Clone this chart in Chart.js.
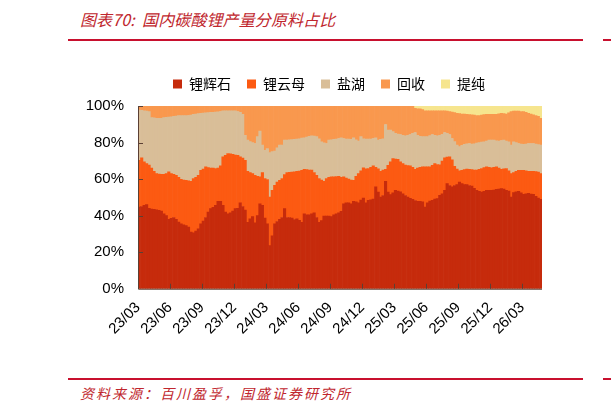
<!DOCTYPE html>
<html>
<head>
<meta charset="utf-8">
<script src="https://cdn.jsdelivr.net/npm/chart.js@4.4.1/dist/chart.umd.min.js"></script>
<style>
  html, body { margin: 0; padding: 0; background: #fff; }
  body { width: 611px; height: 410px; position: relative; overflow: hidden; font-family: "Noto Sans CJK SC", sans-serif; }
  .title { position: absolute; left: 80px; top: 7px; font-size: 16px; font-style: italic; color: #C0262D; letter-spacing: 0.1px; }
  .rule { position: absolute; height: 2px; background: #C8102E; }
  .source { position: absolute; left: 80px; top: 383px; font-size: 14px; font-style: italic; color: #C0262D; letter-spacing: 2px; }
  #wrap { position: absolute; left: 78px; top: 61px; width: 502px; height: 279px; }
</style>
</head>
<body>
<div class="title">图表70:&nbsp; 国内碳酸锂产量分原料占比</div>
<div class="rule" style="left:68px; top:39px; width:515px;"></div>
<div class="rule" style="left:603px; top:39px; width:8px;"></div>
<div id="wrap"><canvas id="chart"></canvas></div>
<div class="rule" style="left:68px; top:378px; width:515px;"></div>
<div class="rule" style="left:603px; top:378px; width:8px;"></div>
<div class="source">资料来源：百川盈孚，国盛证券研究所</div>
<script>
// quarter tick labels, one every 13 weekly bars
const quarterLabels = ['23/03', '23/06', '23/09', '23/12', '24/03', '24/06', '24/09', '24/12', '25/03', '25/06', '25/09', '25/12', '26/03'];
const weeksPerQuarter = 13;

const seriesNames = ['锂辉石', '锂云母', '盐湖', '回收', '提纯'];
const seriesColors = ['#C62B0C', '#FC5A12', '#D9BE98', '#F9984E', '#F6E58E'];

// weekly share of each feedstock, %
const spodumene = [44.7,45,45.6,46,44,43.6,43.4,43.2,42.9,42.5,
  41,40,38,38.5,39,38,36.5,35.5,35,34.5,
  33.7,31,30.6,31.5,32.8,35.5,37,39,42,43.8,
  44.5,45.6,47.8,47.8,45.6,42,41,41.5,42.5,43.8,
  44,47,45,43,36.4,38.3,39.5,36,40,46.5,
  45.6,38.6,35.5,23.6,29,35.5,36.8,38,39,43.8,
  39,39,38.6,37.9,38.3,37.5,36.4,41,40.5,40.5,
  41,41.6,39,36.4,37.3,39.7,39.7,39.7,39.5,40.5,
  41,41.5,42.3,46.5,47,47,46.5,47.8,47.5,47,
  48.5,49.6,47,48.4,48.6,49,55.7,52.9,50.2,51,
  58.8,52.9,51.5,52.5,53.8,53.5,53,52,51,50.2,
  49.5,48.9,48.3,47.8,47.8,47.5,44.7,47,48,48.4,
  49,49.3,51.1,52,53.8,57.5,56.5,55.7,56.5,57,
  58.4,57.5,57,57,56.5,56.2,55,53.8,53.3,52.9,
  53.3,53.8,53.8,53.8,54,54.4,54.6,54.8,54.6,53.8,
  53.5,50.2,52.6,53,53.3,52.5,51.6,52,52.2,51.8,
  51.6,50.5,49.6,48.9];

const lepidolite = [25.6,26.6,23.8,22.5,23.6,22.4,20.9,19.8,19.9,20.1,
  21.6,23,26,24.5,23.6,24,24.5,24.4,24.5,24.8,
  25.3,27.8,29.7,29.5,29.2,29.3,28.5,27.7,24.3,22.2,
  21.5,20.2,18.2,19.4,26.6,31,33,32.3,31,29.4,
  29,25.2,26.5,27.3,27.9,25.2,23.5,26,21.5,14.7,
  17.9,21.7,24.3,26.6,24.8,21.1,21.6,21.3,21.3,18.7,
  24.6,24.7,25.2,26.1,25.9,26.9,28.4,24.4,24.7,24.5,
  24,22,23,23.9,22.2,19.1,20.6,21.3,21.7,20.8,
  20.4,20,18.7,14.7,13.5,13,13,11.5,14,16,
  16,16.5,18.6,17.4,17.8,18.2,10.8,12.7,14.1,14,
  6.6,14.6,17.9,18.7,17.2,17.3,16.4,16.5,16.6,17.2,
  17.7,17.6,17.1,18.2,18.7,19.2,22,19.7,18.7,19.1,
  19.5,18.7,16.7,17.8,17.8,14.5,15.7,14.8,10.5,8.5,
  6.1,7.3,8.2,8.5,8.8,9,10,11.2,12,12.9,
  13,12.9,12.6,12.4,12.4,12.3,11.4,10.6,11,12,
  11,12.8,10.9,11.2,11.5,12.3,13.2,12.5,12.1,12.5,
  12.7,13.6,14.3,14.1];

const saltLake = [27.5,26,28,28.7,29.3,27.6,29.2,30.3,30.4,30.7,
  31,30.8,30,31.1,31.7,32.5,33.7,34.8,35.2,35.4,
  35.8,36.2,35.1,34.6,33.8,31.2,30.6,29.5,30.1,30.5,
  30.6,30.9,30.8,29.8,25.1,24.3,23.3,23.5,23.8,24.1,
  24,24.3,23.9,13.7,17,17,17,17.5,21.7,25.1,
  15.1,15.5,16.9,24.3,21.2,18.7,18.7,19.3,18.3,18.8,
  17.7,17.8,17.8,17.8,17.7,17.7,17.6,17.2,17.8,18.4,
  18.7,19.9,21.2,21.7,20.9,21,19.2,20.3,20.3,20.4,
  20.5,20.7,21.6,21,21.4,21.9,22.2,23.3,20,17.8,
  18.7,15.9,16.3,16.1,15.5,15,16.1,15.7,17.5,17,
  24.5,19.3,17.4,14.8,14,13.8,15,15.5,16.1,16.6,
  17.2,18.5,20.1,18,16.9,16.5,16.5,16.5,17.1,16.9,
  15.5,15.7,16.2,14.7,13.9,13,12.2,11.7,13.5,13.1,
  13.3,13.7,13.8,13.8,14.2,14,14.3,14.7,14.7,14.5,
  14.1,14.1,14.9,15.1,14.9,14.3,14.8,15.7,15.7,15,
  15.9,15.6,16.9,15.8,14.7,14.4,14.2,14.7,15.2,15.2,
  15.2,15.1,15,15.6];

const recycling = [2.2,2.4,2.6,2.8,3.1,6.4,6.5,6.7,6.8,6.7,
  6.4,6.2,6,5.9,5.7,5.5,5.3,5.3,5.3,5.3,
  5.2,5,4.6,4.4,4.2,4,3.9,3.8,3.6,3.5,
  3.4,3.3,3.2,3,2.7,2.7,2.7,2.7,2.7,2.7,
  3,3.5,4.6,16,18.7,19.5,20,20.5,16.8,13.7,
  21.4,24.2,23.3,25.5,25,24.7,22.9,21.4,21.4,18.7,
  18.7,18.5,18.4,18.2,18.1,17.9,17.6,17.4,17,16.6,
  16.3,16.5,16.8,18,19.6,20.2,20.5,18.7,18.5,18.3,
  18.1,17.8,17.4,17.8,18.1,18.1,18.3,17.4,18.5,19.2,
  16.8,18,18.1,18.1,18.1,17.8,17.4,18.7,18.2,18,
  10.1,13.2,13.2,14,15,15.4,15.6,16,16.3,16,
  15.6,15,13.2,14.5,15,14.8,14.1,14.1,13.5,12.9,
  13.3,13.6,13.3,12.8,11.8,12.2,12.5,14.5,15.9,17.4,
  18,17.1,16.6,16.2,15.8,15.9,15.7,15.1,14.7,14.7,
  14.9,14.6,14.1,14.2,14.2,14.4,14.9,14.9,14.5,14.8,
  15.9,18.3,16.8,17.2,17.7,17.8,17.9,17.3,16.5,16.1,
  15.6,15.6,15.4,14.6];

const purification = [0,0,0,0,0,0,0,0,0,0,
  0,0,0,0,0,0,0,0,0,0,
  0,0,0,0,0,0,0,0,0,0,
  0,0,0,0,0,0,0,0,0,0,
  0,0,0,0,0,0,0,0,0,0,
  0,0,0,0,0,0,0,0,0,0,
  0,0,0,0,0,0,0,0,0,0,
  0,0,0,0,0,0,0,0,0,0,
  0,0,0,0,0,0,0,0,0,0,
  0,0,0,0,0,0,0,0,0,0,
  0,0,0,0,0,0,0,0,0,0,
  0,0,1.3,1.5,1.6,2,2.7,2.7,2.7,2.7,
  2.7,2.7,2.7,2.7,2.7,2.8,3.1,3.3,3.6,4,
  4.2,4.4,4.4,4.5,4.7,4.9,5,5.2,5.3,5,
  4.7,4.6,4.6,4.5,4.5,4.6,4.3,4,4.2,4.4,
  3.7,3.1,2.8,2.8,2.8,3,3.1,3.5,4,4.4,
  4.9,5.2,5.7,6.8];

const seriesData = [spodumene, lepidolite, saltLake, recycling, purification];
const weekIndex = spodumene.map((_, i) => i);
const axisColor = '#5b4034';

// legend sits a bit right of the plot centre and a few px higher than default
const legendTweak = {
    id: 'legendTweak',
    beforeUpdate(chart) {
        const lg = chart.legend;
        if (!lg || lg._tweaked) return;
        const fit = lg.fit;
        lg.fit = function () { fit.call(this); this.height += 5; };
        lg._tweaked = true;
    },
    afterLayout(chart) {
        chart.legend.left += 19;
        chart.legend.right += 19;
    }
};

// short tick marks pointing into the plot, drawn over the bars like the original
const innerTicks = {
    id: 'innerTicks',
    afterDatasetsDraw(chart) {
        const { ctx, chartArea: a, scales: { x, y } } = chart;
        const half = (x.getPixelForValue(1) - x.getPixelForValue(0)) / 2;
        ctx.save();
        ctx.strokeStyle = axisColor;
        ctx.lineWidth = 1;
        ctx.beginPath();
        ctx.moveTo(a.left + 0.5, a.top);
        ctx.lineTo(a.left + 0.5, a.bottom + 0.5);
        ctx.lineTo(a.right, a.bottom + 0.5);
        for (let v = 20; v <= 100; v += 20) {
            const py = Math.round(y.getPixelForValue(v)) + 0.5;
            ctx.moveTo(a.left, py);
            ctx.lineTo(a.left + 5, py);
        }
        for (let i = weeksPerQuarter; i < weekIndex.length; i += weeksPerQuarter) {
            const px = Math.round(x.getPixelForValue(i) - half) + 0.5;
            ctx.moveTo(px, a.bottom);
            ctx.lineTo(px, a.bottom - 5);
        }
        ctx.stroke();
        ctx.restore();
    }
};

new Chart(document.getElementById('chart'), {
    type: 'bar',
    data: {
        labels: weekIndex,
        datasets: seriesNames.map((name, k) => ({
            label: name,
            data: seriesData[k],
            backgroundColor: seriesColors[k],
            borderWidth: 0,
            barPercentage: 1,
            categoryPercentage: 1,
        })),
    },
    options: {
        responsive: true,
        maintainAspectRatio: false,
        animation: false,
        layout: { padding: { right: 38, top: 0, bottom: 0, left: 0 } },
        plugins: {
            legend: {
                position: 'top',
                labels: {
                    boxWidth: 9,
                    boxHeight: 9,
                    padding: 16,
                    color: '#000',
                    font: { size: 14, family: '"Noto Sans CJK SC", sans-serif' },
                },
            },
            tooltip: { enabled: false },
        },
        scales: {
            x: {
                stacked: true,
                grid: { display: false },
                border: { display: false },
                ticks: {
                    autoSkip: false,
                    maxRotation: 45,
                    minRotation: 45,
                    padding: 2,
                    labelOffset: -1.2,
                    color: '#000',
                    font: { size: 15, family: 'Arial, "Liberation Sans", sans-serif' },
                    callback: (v, i) => (i % weeksPerQuarter === 0 ? quarterLabels[i / weeksPerQuarter] : null),
                },
            },
            y: {
                stacked: true,
                min: 0,
                max: 100,
                grid: { display: false, drawTicks: false },
                border: { display: false },
                afterFit: (s) => { s.width = 60; },
                ticks: {
                    stepSize: 20,
                    padding: 14,
                    color: '#000',
                    font: { size: 15, family: 'Arial, "Liberation Sans", sans-serif' },
                    callback: (v) => v + '%',
                },
            },
        },
    },
    plugins: [legendTweak, innerTicks],
});
</script>
</body>
</html>
